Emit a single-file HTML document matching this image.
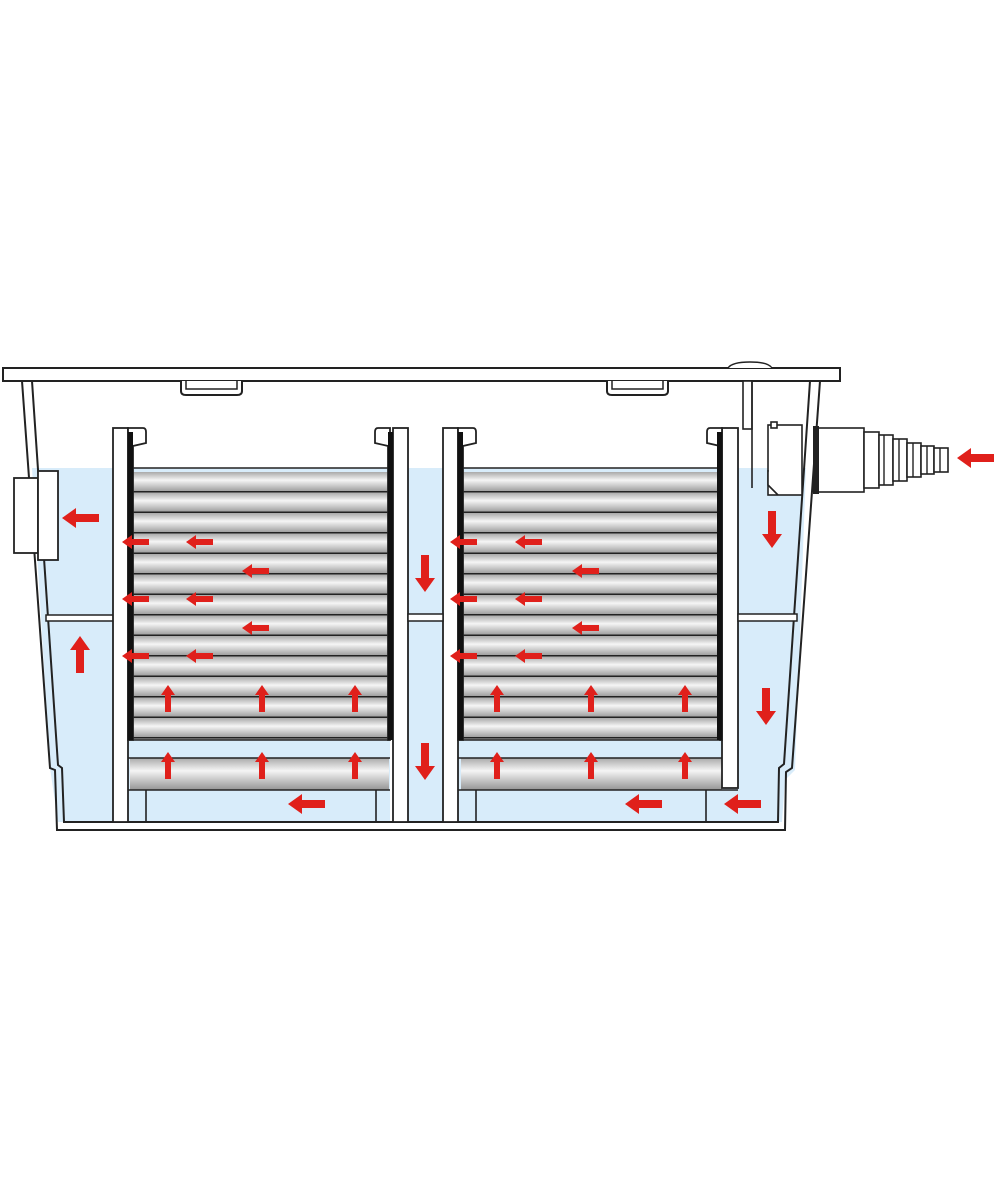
<!DOCTYPE html>
<html><head><meta charset="utf-8"><style>html,body{margin:0;padding:0;background:#fff}svg{display:block}</style></head>
<body>
<svg width="1000" height="1200" viewBox="0 0 1000 1200" xmlns="http://www.w3.org/2000/svg">
<defs>
<linearGradient id="tube" x1="0" y1="0" x2="0" y2="1">
<stop offset="0" stop-color="#a9a9a9"/><stop offset="0.4" stop-color="#f5f5f5"/><stop offset="1" stop-color="#959595"/>
</linearGradient>
<polygon id="aL" points="0,0 14,-10 14,-4 37,-4 37,4 14,4 14,10" fill="#e0201b"/>
<polygon id="aS" points="0,0 10,-7 10,-3 27,-3 27,3 10,3 10,7" fill="#e0201b"/>
<pattern id="tubes" x="0" y="472" width="10" height="20.5" patternUnits="userSpaceOnUse">
<rect width="10" height="20.5" fill="url(#tube)"/><rect y="19" width="10" height="1.6" fill="#222"/>
</pattern>
</defs>

<path d="M32,468 L118,468 L118,822 L58,822 L50,768 Z" fill="#d8ecfa"/>
<rect x="128" y="468" width="262" height="354" fill="#d8ecfa"/>
<rect x="408" y="468" width="35" height="354" fill="#d8ecfa"/>
<rect x="458" y="468" width="280" height="354" fill="#d8ecfa"/>
<path d="M738,468 L806,468 L795,770 L785,780 L782,822 L738,822 Z" fill="#d8ecfa"/>
<rect x="738" y="455" width="20" height="13" fill="#fff"/>

<g fill="none" stroke="#222" stroke-width="2">
<path d="M22,381 L50,768 L55,770 L57,830 L785,830 L786,772 L792,768 L820,381"/>
<path d="M32,381 L58,765 L62,768 L64,822 L778,822 L779,768 L784,764 L810,381"/>
</g>
<rect x="3" y="368" width="837" height="13" fill="#fff" stroke="#222" stroke-width="2"/>
<path d="M728,368 Q732,362 750,362 Q768,362 772,368" fill="#fff" stroke="#222" stroke-width="1.5"/>
<path d="M181,381 L181,391 Q181,395 186,395 L237,395 Q242,395 242,391 L242,381" fill="#fff" stroke="#222" stroke-width="2"/>
<path d="M186,381 L186,389 L237,389 L237,381" fill="none" stroke="#222" stroke-width="1.5"/>
<path d="M607,381 L607,391 Q607,395 612,395 L663,395 Q668,395 668,391 L668,381" fill="#fff" stroke="#222" stroke-width="2"/>
<path d="M612,381 L612,389 L663,389 L663,381" fill="none" stroke="#222" stroke-width="1.5"/>

<rect x="14" y="478" width="24" height="75" fill="#fff" stroke="#222" stroke-width="1.8"/>
<rect x="38" y="471" width="20" height="89" fill="#fff" stroke="#222" stroke-width="1.8"/>
<rect x="46" y="615" width="68" height="6" fill="#fff" stroke="#222" stroke-width="1.5"/>

<rect x="130" y="472" width="259" height="268" fill="url(#tubes)"/>
<rect x="130" y="758" width="259" height="32" fill="url(#tube)"/>
<g stroke="#222" stroke-width="1.6" fill="none">
<line x1="128" y1="740" x2="390" y2="740"/>
<line x1="128" y1="758" x2="390" y2="758"/>
<line x1="128" y1="790" x2="390" y2="790"/>
<line x1="146" y1="790" x2="146" y2="822"/>
<line x1="376" y1="790" x2="376" y2="822"/>
<line x1="128" y1="468" x2="390" y2="468"/>
</g>
<rect x="461" y="472" width="259" height="268" fill="url(#tubes)"/>
<rect x="461" y="758" width="261" height="32" fill="url(#tube)"/>
<g stroke="#222" stroke-width="1.6" fill="none">
<line x1="458" y1="740" x2="722" y2="740"/>
<line x1="458" y1="758" x2="722" y2="758"/>
<line x1="458" y1="790" x2="738" y2="790"/>
<line x1="476" y1="790" x2="476" y2="822"/>
<line x1="706" y1="790" x2="706" y2="822"/>
<line x1="458" y1="468" x2="722" y2="468"/>
</g>

<g fill="#fff" stroke="#222" stroke-width="1.8">
<rect x="113" y="428" width="15" height="394"/>
<path d="M128,428 L143,428 Q146,428 146,432 L146,443 L133,446 L133,740 L128,740 Z"/>
<rect x="393" y="428" width="15" height="394"/>
<path d="M390,428 L378,428 Q375,428 375,432 L375,443 L388,446 L388,740 L390,740 Z"/>
<rect x="443" y="428" width="15" height="394"/>
<path d="M458,428 L473,428 Q476,428 476,432 L476,443 L463,446 L463,740 L458,740 Z"/>
<rect x="722" y="428" width="16" height="360"/>
<path d="M722,428 L710,428 Q707,428 707,432 L707,443 L720,446 L720,740 L722,740 Z"/>
</g>
<g fill="#111">
<rect x="128" y="432" width="5" height="308"/>
<rect x="388" y="432" width="5" height="308"/>
<rect x="458" y="432" width="5" height="308"/>
<rect x="717" y="432" width="5" height="308"/>
</g>
<rect x="408" y="614" width="35" height="7" fill="#fff" stroke="#222" stroke-width="1.5"/>
<rect x="738" y="614" width="59" height="7" fill="#fff" stroke="#222" stroke-width="1.5"/>

<g fill="#fff" stroke="#222" stroke-width="1.6">
<rect x="743" y="381" width="9" height="48"/>
<line x1="752" y1="381" x2="752" y2="488"/>
<rect x="768" y="425" width="34" height="70"/>
<rect x="771" y="422" width="6" height="6"/>
<path d="M768,470 L768,485 L778,495"/>
<rect x="818" y="428" width="46" height="64"/>
<rect x="864" y="432" width="15" height="56"/>
<rect x="879" y="435" width="14" height="50"/>
<rect x="893" y="439" width="14" height="42"/>
<rect x="907" y="443" width="14" height="34"/>
<rect x="921" y="446" width="13" height="28"/>
<rect x="934" y="448" width="14" height="24"/>
</g>
<g stroke="#222" stroke-width="1.4">
<line x1="899" y1="439" x2="899" y2="481"/><line x1="913" y1="443" x2="913" y2="477"/>
<line x1="927" y1="446" x2="927" y2="474"/><line x1="940" y1="448" x2="940" y2="472"/>
<line x1="884" y1="435" x2="884" y2="485"/>
</g>
<rect x="813" y="426" width="6" height="68" fill="#222"/>

<g>
<use href="#aS" x="122" y="542"/><use href="#aS" x="186" y="542"/><use href="#aS" x="242" y="571"/>
<use href="#aS" x="122" y="599"/><use href="#aS" x="186" y="599"/><use href="#aS" x="242" y="628"/>
<use href="#aS" x="122" y="656"/><use href="#aS" x="186" y="656"/>
<use href="#aS" x="450" y="542"/><use href="#aS" x="515" y="542"/><use href="#aS" x="572" y="571"/>
<use href="#aS" x="450" y="599"/><use href="#aS" x="515" y="599"/><use href="#aS" x="572" y="628"/>
<use href="#aS" x="450" y="656"/><use href="#aS" x="515" y="656"/>
</g>
<g>
<use href="#aS" transform="translate(168,685) rotate(90)"/><use href="#aS" transform="translate(262,685) rotate(90)"/><use href="#aS" transform="translate(355,685) rotate(90)"/>
<use href="#aS" transform="translate(168,752) rotate(90)"/><use href="#aS" transform="translate(262,752) rotate(90)"/><use href="#aS" transform="translate(355,752) rotate(90)"/>
<use href="#aS" transform="translate(497,685) rotate(90)"/><use href="#aS" transform="translate(591,685) rotate(90)"/><use href="#aS" transform="translate(685,685) rotate(90)"/>
<use href="#aS" transform="translate(497,752) rotate(90)"/><use href="#aS" transform="translate(591,752) rotate(90)"/><use href="#aS" transform="translate(685,752) rotate(90)"/>
</g>
<use href="#aL" x="62" y="518"/>
<use href="#aL" transform="translate(80,636) rotate(90)"/>
<use href="#aL" transform="translate(425,592) rotate(-90)"/>
<use href="#aL" transform="translate(425,780) rotate(-90)"/>
<use href="#aL" transform="translate(772,548) rotate(-90)"/>
<use href="#aL" transform="translate(766,725) rotate(-90)"/>
<use href="#aL" x="288" y="804"/>
<use href="#aL" x="625" y="804"/>
<use href="#aL" x="724" y="804"/>
<use href="#aL" x="957" y="458"/>
</svg>
</body></html>
